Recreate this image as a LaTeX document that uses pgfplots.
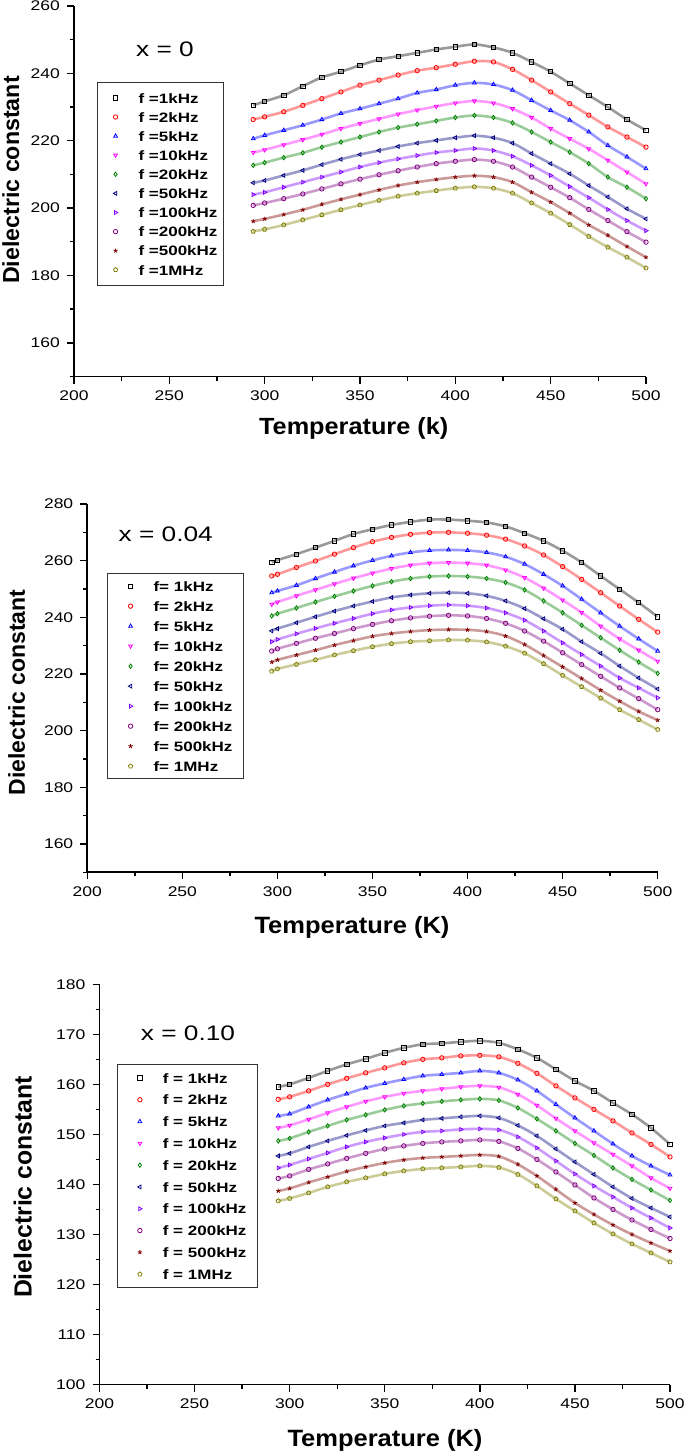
\documentclass[border=0pt]{standalone}
\usepackage{fontspec}
\setmainfont{Liberation Sans}[FakeStretch=1.25]
\newfontfamily\xlabfont{Liberation Sans}[FakeStretch=1.08]
\newfontfamily\ylabfont{Liberation Sans}
\usepackage{pgfplots}
\pgfplotsset{compat=1.18}
\usepackage{pgfplotstable}

\definecolor{c1}{RGB}{0,0,0}
\definecolor{c2}{RGB}{255,0,0}
\definecolor{c3}{RGB}{0,0,255}
\definecolor{c4}{RGB}{255,0,255}
\definecolor{c5}{RGB}{0,128,0}
\definecolor{c6}{RGB}{0,0,128}
\definecolor{c7}{RGB}{128,0,255}
\definecolor{c8}{RGB}{128,0,128}
\definecolor{c9}{RGB}{128,0,0}
\definecolor{c10}{RGB}{128,128,0}

% x = 0
\pgfplotstableread{
T a b c d e f g h i j
294 230.5 226.3 220.6 216.5 212.7 207.5 204.0 200.8 196.1 193.1
300 231.7 227.1 221.6 217.3 213.5 208.2 204.7 201.5 196.8 193.7
310 233.5 228.6 223.1 218.8 215.0 209.7 206.2 202.8 198.1 195.0
320 236.2 230.5 224.6 220.3 216.4 211.2 207.7 204.2 199.5 196.5
330 238.8 232.5 226.3 221.9 218.1 212.9 209.2 205.7 201.1 198.0
340 240.5 234.5 228.1 223.6 219.6 214.5 210.7 207.2 202.6 199.5
350 242.4 236.5 229.5 225.1 221.1 215.9 212.2 208.6 204.0 200.9
360 244.1 238.0 231.0 226.5 222.6 217.1 213.5 209.9 205.4 202.3
370 245.1 239.5 232.5 227.9 223.9 218.3 214.6 211.1 206.7 203.5
380 246.1 240.8 234.2 229.1 224.9 219.3 215.6 212.2 207.7 204.4
390 247.1 241.7 235.2 230.2 225.9 220.1 216.5 213.2 208.5 205.2
400 247.9 242.7 236.5 231.2 226.9 220.9 217.1 213.9 209.2 205.9
410 248.6 243.6 237.2 231.8 227.5 221.5 217.7 214.4 209.6 206.3
420 247.7 243.4 236.7 231.2 226.9 220.9 217.1 213.9 209.2 205.9
430 246.1 241.2 235.0 229.5 225.3 219.3 215.4 212.2 207.7 204.4
440 243.4 238.0 232.0 226.9 222.6 216.2 212.7 209.2 204.7 201.5
450 240.5 234.5 229.0 223.6 219.6 213.2 209.7 206.2 201.8 198.5
460 237.0 231.0 226.1 220.6 216.6 210.2 206.4 203.1 198.5 195.1
470 233.5 227.6 222.6 217.6 213.2 206.7 203.1 199.6 195.0 191.6
480 230.0 224.1 218.6 214.2 209.2 203.3 199.6 196.3 191.9 188.4
490 226.3 221.1 215.2 210.7 206.2 199.8 196.3 193.0 188.6 185.4
500 223.1 218.1 211.7 207.2 202.8 196.8 193.3 189.9 185.4 182.2
}\tabA

% x = 0.04
\pgfplotstableread{
T a b c d e f g h i j
297 259.4 254.6 248.7 244.6 240.5 235.2 231.4 228.1 224.2 221.0
300 260.2 255.2 249.3 245.4 241.3 236.0 232.2 228.9 225.0 221.8
310 262.3 257.6 251.3 247.6 243.3 238.1 234.2 230.8 226.7 223.4
320 264.6 259.9 253.7 249.7 245.4 240.2 236.1 232.6 228.4 225.0
330 267.0 262.3 256.0 251.8 247.4 242.2 237.9 234.3 230.2 226.7
340 269.4 264.6 258.2 253.8 249.3 244.0 239.6 236.0 231.8 228.2
350 271.1 266.7 260.1 255.6 251.1 245.6 241.3 237.5 233.3 229.6
360 272.6 268.2 261.7 257.2 252.6 247.0 242.6 238.8 234.3 230.7
370 273.7 269.3 262.9 258.4 253.7 247.9 243.5 239.8 235.0 231.4
380 274.5 269.9 263.6 259.1 254.4 248.5 244.1 240.4 235.5 231.7
390 274.5 270.0 263.8 259.3 254.6 248.7 244.4 240.7 235.7 232.0
400 274.1 269.7 263.6 259.1 254.4 248.5 244.1 240.5 235.6 231.9
410 273.5 269.0 262.9 258.4 253.7 247.6 243.3 239.6 235.0 231.3
420 272.1 267.6 261.4 256.7 252.3 245.8 241.6 237.9 233.4 229.8
430 269.7 265.2 258.8 254.0 249.7 243.1 239.0 235.2 230.4 227.3
440 267.0 262.0 255.2 250.3 245.8 239.5 235.2 231.6 226.5 223.6
450 263.5 257.9 251.1 246.1 241.6 235.8 231.0 227.5 222.5 219.5
460 259.4 253.4 246.4 241.7 237.2 231.4 226.9 223.3 218.4 215.5
470 254.6 248.7 241.6 236.9 232.8 227.3 222.8 219.2 214.3 211.5
480 249.9 244.0 236.9 232.4 228.4 222.8 218.6 215.1 210.4 207.4
490 245.2 239.3 232.4 228.4 224.2 218.6 215.1 211.3 206.8 203.9
500 240.2 234.8 228.1 224.5 220.2 214.7 211.6 207.4 203.7 200.4
}\tabB

% x = 0.10
\pgfplotstableread{
T a b c d e f g h i j
294 159.5 157.0 153.7 151.3 148.7 145.7 143.3 141.2 138.7 136.7
300 160.0 157.5 154.1 151.8 149.2 146.2 143.9 141.7 139.2 137.2
310 161.3 158.7 155.5 153.0 150.5 147.5 145.1 143.0 140.4 138.3
320 162.7 160.0 156.9 154.3 151.7 148.7 146.3 144.1 141.5 139.5
330 164.0 161.2 158.1 155.5 152.9 149.8 147.5 145.2 142.6 140.5
340 165.1 162.3 159.3 156.6 153.9 150.8 148.5 146.2 143.5 141.3
350 166.3 163.3 160.2 157.5 154.9 151.7 149.3 147.1 144.3 142.1
360 167.3 164.3 161.0 158.2 155.7 152.3 150.0 147.7 144.9 142.7
370 168.0 165.0 161.7 158.7 156.2 152.9 150.5 148.2 145.3 143.1
380 168.2 165.3 162.0 159.1 156.6 153.2 150.7 148.5 145.5 143.3
390 168.5 165.7 162.3 159.5 156.9 153.5 151.0 148.7 145.7 143.5
400 168.7 165.8 162.7 159.7 157.1 153.7 151.1 148.9 145.9 143.7
410 168.3 165.5 162.3 159.4 156.8 153.3 150.9 148.6 145.6 143.4
420 167.0 164.2 160.9 158.0 155.3 151.8 149.5 147.2 144.0 142.0
430 165.3 162.2 158.7 155.8 153.1 149.7 147.3 145.0 141.7 139.7
440 163.0 159.7 156.0 153.2 150.7 147.1 144.7 142.5 139.0 137.1
450 160.7 157.3 153.3 150.7 148.2 144.5 142.1 139.9 136.3 134.7
460 158.7 155.0 150.7 148.3 145.8 142.0 139.7 137.3 134.0 132.3
470 156.3 152.7 148.1 146.0 143.3 139.5 137.5 135.0 131.9 130.1
480 154.0 150.3 145.7 143.7 141.0 137.2 135.3 132.9 130.0 128.1
490 151.3 148.0 143.7 141.3 138.9 135.3 133.3 131.0 128.3 126.3
500 148.0 145.5 141.9 139.2 136.8 133.5 131.3 129.2 126.7 124.5
}\tabC

\newcommand{\ser}[5]{%
  \addplot[forget plot, draw=#3, line width=1.3pt, draw opacity=0.4, smooth, mark=none] table[x=T,y=#2]{#1};
  \addplot[only marks, color=#3, #4, mark size=1.1pt, line width=0.4pt] table[x=T,y=#2]{#1};
  \addlegendentry{#5}
}

\pgfplotsset{
  panel/.style={
    scale only axis,
    axis x line*=bottom, axis y line*=left,
    axis line style={-, line width=0.9pt},
    xmin=200, xmax=500,
    xtick={200,250,...,500}, minor xtick={225,275,...,475},
    tick align=outside, major tick length=3.5pt, minor tick length=2pt,
    every tick/.style={black, line width=0.7pt},
    tick label style={font=\fontsize{7}{8}\selectfont},
    /pgf/number format/assume math mode=true,
    legend cell align=left,
    legend image code/.code={%
      \path[draw=none,fill=none] (0pt,-2pt) rectangle (14pt,2pt);
      \draw[mark repeat=2,mark phase=2] plot coordinates {(0pt,0pt) (7pt,0pt) (14pt,0pt)};},
  },
  legbase/.style={legend style={anchor=north west, draw=black!80, line width=0.6pt,
      font=\bfseries\fontsize{6.8}{8}\selectfont, column sep=3.5pt,
      nodes={inner xsep=1pt, inner ysep=0pt, text height=5.2pt, text depth=0pt}}},
}

\begin{document}
\begin{tikzpicture}
\useasboundingbox (0pt,0pt) rectangle (342.5pt,-726.5pt);

% ---------- panel 1 ----------
\begin{axis}[panel, legbase, at={(37pt,-188.25pt)}, anchor=south west,
  width=286pt, height=185.25pt, ymin=150, ymax=260,
  ytick={160,180,...,260}, minor ytick={150,170,...,250},
  legend style={at={(0.0407,0.7957)}, inner xsep=1.85pt, inner ysep=5.2pt, row sep=4.35pt}]
\ser{\tabA}{a}{c1}{mark=square}{f =1kHz}
\ser{\tabA}{b}{c2}{mark=o}{f =2kHz}
\ser{\tabA}{c}{c3}{mark=triangle}{f =5kHz}
\ser{\tabA}{d}{c4}{mark=triangle,mark options={rotate=180}}{f =10kHz}
\ser{\tabA}{e}{c5}{mark=diamond}{f =20kHz}
\ser{\tabA}{f}{c6}{mark=triangle,mark options={rotate=90}}{f =50kHz}
\ser{\tabA}{g}{c7}{mark=triangle,mark options={rotate=-90}}{f =100kHz}
\ser{\tabA}{h}{c8}{mark=o}{f =200kHz}
\ser{\tabA}{i}{c9}{mark=star}{f =500kHz}
\ser{\tabA}{j}{c10}{mark=pentagon}{f =1MHz}
\end{axis}

% ---------- panel 2 ----------
\begin{axis}[panel, legbase, at={(43.65pt,-436.15pt)}, anchor=south west,
  width=285.2pt, height=184.15pt, ymin=150, ymax=280,
  ytick={160,180,...,280}, minor ytick={150,170,...,270},
  legend style={at={(0.034,0.8125)}, inner xsep=4.65pt, inner ysep=3.65pt, row sep=4.8pt}]
\ser{\tabB}{a}{c1}{mark=square}{f= 1kHz}
\ser{\tabB}{b}{c2}{mark=o}{f= 2kHz}
\ser{\tabB}{c}{c3}{mark=triangle}{f= 5kHz}
\ser{\tabB}{d}{c4}{mark=triangle,mark options={rotate=180}}{f= 10kHz}
\ser{\tabB}{e}{c5}{mark=diamond}{f= 20kHz}
\ser{\tabB}{f}{c6}{mark=triangle,mark options={rotate=90}}{f= 50kHz}
\ser{\tabB}{g}{c7}{mark=triangle,mark options={rotate=-90}}{f= 100kHz}
\ser{\tabB}{h}{c8}{mark=o}{f= 200kHz}
\ser{\tabB}{i}{c9}{mark=star}{f= 500kHz}
\ser{\tabB}{j}{c10}{mark=pentagon}{f= 1MHz}
\end{axis}

% ---------- panel 3 ----------
\begin{axis}[panel, legbase, at={(49.75pt,-692.25pt)}, anchor=south west,
  width=285.25pt, height=200.1pt, ymin=100, ymax=180,
  ytick={100,110,...,180}, minor ytick={105,115,...,175},
  legend style={at={(0.0301,0.8005)}, inner xsep=4.3pt, inner ysep=4pt, row sep=5.7pt}]
\ser{\tabC}{a}{c1}{mark=square}{f = 1kHz}
\ser{\tabC}{b}{c2}{mark=o}{f = 2kHz}
\ser{\tabC}{c}{c3}{mark=triangle}{f = 5kHz}
\ser{\tabC}{d}{c4}{mark=triangle,mark options={rotate=180}}{f = 10kHz}
\ser{\tabC}{e}{c5}{mark=diamond}{f = 20kHz}
\ser{\tabC}{f}{c6}{mark=triangle,mark options={rotate=90}}{f = 50kHz}
\ser{\tabC}{g}{c7}{mark=triangle,mark options={rotate=-90}}{f = 100kHz}
\ser{\tabC}{h}{c8}{mark=o}{f = 200kHz}
\ser{\tabC}{i}{c9}{mark=star}{f = 500kHz}
\ser{\tabC}{j}{c10}{mark=pentagon}{f = 1MHz}
\end{axis}

% titles
\node[inner sep=0pt, anchor=center, font=\fontsize{10.5}{12}\selectfont] at (82.5pt,-24.5pt) {x = 0};
\node[inner sep=0pt, anchor=center, font=\fontsize{10.5}{12}\selectfont] at (82.85pt,-267pt) {x = 0.04};
\node[inner sep=0pt, anchor=center, font=\fontsize{10.5}{12}\selectfont] at (94pt,-516.5pt) {x = 0.10};

% x labels
\node[inner sep=0pt, anchor=base, font=\xlabfont\bfseries\fontsize{11.7}{13}\selectfont] at (176.85pt,-217.15pt) {Temperature (k)};
\node[inner sep=0pt, anchor=base, font=\xlabfont\bfseries\fontsize{11.8}{13}\selectfont] at (176pt,-466.75pt) {Temperature (K)};
\node[inner sep=0pt, anchor=base, font=\xlabfont\bfseries\fontsize{11.8}{13}\selectfont] at (192.5pt,-723.35pt) {Temperature (K)};

% y labels
\node[inner sep=0pt, anchor=base, rotate=90, font=\ylabfont\bfseries\fontsize{11.6}{13}\selectfont] at (9.5pt,-90pt) {Dielectric constant};
\node[inner sep=0pt, anchor=base, rotate=90, font=\ylabfont\bfseries\fontsize{11.5}{13}\selectfont] at (12.5pt,-346.25pt) {Dielectric constant};
\node[inner sep=0pt, anchor=base, rotate=90, font=\ylabfont\bfseries\fontsize{12.4}{14}\selectfont] at (15.85pt,-593.5pt) {Dielectric constant};
\end{tikzpicture}
\end{document}
